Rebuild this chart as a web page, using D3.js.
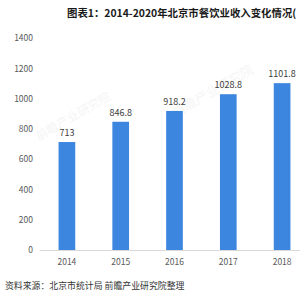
<!DOCTYPE html>
<html><head><meta charset="utf-8">
<script src="https://cdn.jsdelivr.net/npm/d3@7"></script>
<style>body{margin:0;background:#fff}svg{display:block}</style>
</head><body>
<svg id="c" width="300" height="300"></svg>
<script>
const title = "图表1：2014-2020年北京市餐饮业收入变化情况(";
const source = "资料来源：北京市统计局 前瞻产业研究院整理";
const categories = ["2014","2015","2016","2017","2018"];
const values = [713, 846.8, 918.2, 1028.8, 1101.8];
const valueLabels = ["713","846.8","918.2","1028.8","1101.8"];
const yTicks = [0,200,400,600,800,1000,1200,1400];

const svg = d3.select("#c");
const font = "'Noto Sans CJK SC','Microsoft YaHei',sans-serif";

// faint watermarks
const wm = [[215,95,-30,13],[75,120,-30,12]];
wm.forEach(w=>{
  svg.append("text").attr("transform",`translate(${w[0]},${w[1]}) rotate(${w[2]})`)
    .attr("text-anchor","middle").attr("font-family",font).attr("font-size",w[3])
    .attr("fill","#000").attr("opacity",0.04).text("前瞻产业研究院");
});

const x = d3.scaleBand().domain(categories).range([40,309]).paddingInner(0.69).paddingOuter(0.345);
const y = d3.scaleLinear().domain([0,1400]).range([250,38]);

// y axis labels
const ya = svg.append("g").attr("transform","translate(33,0)")
  .call(d3.axisLeft(y).tickValues(yTicks).tickSize(0).tickPadding(0).tickFormat(d3.format("d")));
ya.select(".domain").remove();
ya.selectAll("text").attr("font-family",font).attr("font-size",8.5).attr("fill","#595959");

// baseline
svg.append("line").attr("x1",40).attr("x2",300).attr("y1",y(0)+0.5).attr("y2",y(0)+0.5)
  .attr("stroke","#d9d9d9").attr("stroke-width",1);

// bars
svg.selectAll("rect.bar").data(values).join("rect").attr("class","bar")
  .attr("x",(d,i)=>x(categories[i])).attr("width",x.bandwidth())
  .attr("y",d=>y(d)).attr("height",d=>y(0)-y(d)).attr("fill","#3d86e0");

// value labels
svg.selectAll("text.vl").data(values).join("text").attr("class","vl")
  .attr("x",(d,i)=>x(categories[i])+x.bandwidth()/2).attr("y",d=>y(d)-6)
  .attr("text-anchor","middle").attr("font-family",font).attr("font-size",9)
  .attr("fill","#404040").text((d,i)=>valueLabels[i]);

// x axis labels
const xa = svg.append("g").attr("transform","translate(0,250)")
  .call(d3.axisBottom(x).tickSize(0).tickPadding(9));
xa.select(".domain").remove();
xa.selectAll("text").attr("font-family",font).attr("font-size",8.5).attr("fill","#595959");

// title
svg.append("text").attr("x",67).attr("y",17).attr("font-family",font).attr("font-weight","bold")
  .attr("font-size",10.4).attr("fill","#1a1a1a").text(title);

// source
svg.append("text").attr("x",5).attr("y",289).attr("font-family",font)
  .attr("font-size",8.9).attr("fill","#333").text(source);
</script>
</body></html>
